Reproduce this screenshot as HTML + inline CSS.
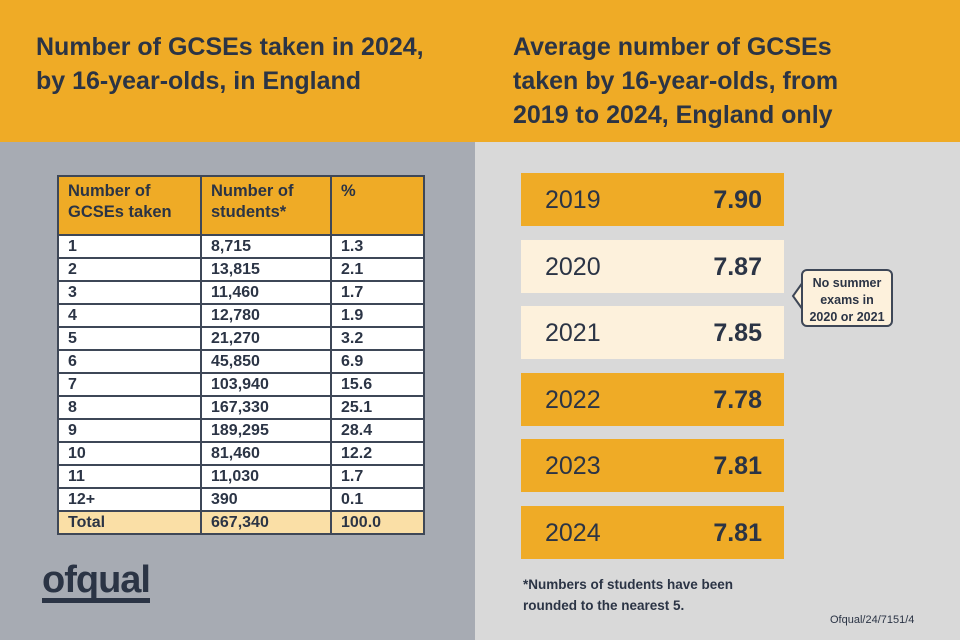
<!DOCTYPE html>
<html><head><meta charset="utf-8"><style>
body{margin:0;width:960px;height:640px;overflow:hidden;font-family:"Liberation Sans",sans-serif;color:#2b3445;position:relative}
#hdr{position:absolute;left:0;top:0;width:960px;height:142px;background:#efab26}
.title{position:absolute;font-weight:bold;font-size:25px;line-height:34px;color:#2b3445}
#lp{position:absolute;left:0;top:142px;width:475px;height:498px;background:#a7abb3}
#rp{position:absolute;left:475px;top:142px;width:485px;height:498px;background:#d9d9d9}
table{position:absolute;left:57px;top:175px;border-collapse:collapse;font-weight:bold;font-size:16px}
td{border:2px solid #3e4757;padding:0 0 0 9px;height:21px;line-height:21px;background:#fff}
tr.h td{background:#efab26;height:53px;vertical-align:top;line-height:21px;padding-top:4px;font-size:16.5px}
tr.t td{background:#fadfa6}
.bar{position:absolute;left:521px;width:263px;height:53px;font-size:25px}
.bar .y{position:absolute;left:24px;top:13px}
.bar .v{position:absolute;right:22px;top:13px;font-weight:bold}
#call{position:absolute;left:801px;top:269px;width:92px;height:58px;background:#fdf1dc;border:2px solid #3e4757;border-radius:6px;font-weight:bold;font-size:12.5px;text-align:center;line-height:17px;box-sizing:border-box;padding-top:4px}
</style></head><body>
<div id="hdr"></div>
<div class="title" style="left:36px;top:30px">Number of GCSEs taken in 2024,<br>by 16-year-olds, in England</div>
<div class="title" style="left:513px;top:30px">Average number of GCSEs<br>taken by 16-year-olds, from<br>2019 to 2024, England only</div>
<div id="lp"></div>
<div id="rp"></div>
<table id="tbl">
<tr class="h"><td style="width:132px">Number of<br>GCSEs taken</td><td style="width:119px">Number of<br>students*</td><td style="width:82px">%</td></tr>
</table>
<svg style="position:absolute;left:783px;top:280px" width="22" height="36"><path d="M20 2 L10 16 L20 30" fill="#fdf1dc" stroke="#3e4757" stroke-width="2"/></svg>
<div id="call">No summer<br>exams in<br>2020 or 2021</div>
<div style="position:absolute;left:523px;top:574px;font-weight:bold;font-size:13.5px;line-height:21px">*Numbers of students have been<br>rounded to the nearest 5.</div>
<div style="position:absolute;left:830px;top:614px;font-size:11px">Ofqual/24/7151/4</div>
<div style="position:absolute;left:42px;top:562px;font-weight:bold;font-size:38px;letter-spacing:-1px;color:#2b3445;border-bottom:5px solid #2b3445;line-height:36px">ofqual</div>
<script>
const gcses=["1","2","3","4","5","6","7","8","9","10","11","12+"];
const students=["8,715","13,815","11,460","12,780","21,270","45,850","103,940","167,330","189,295","81,460","11,030","390"];
const pct=["1.3","2.1","1.7","1.9","3.2","6.9","15.6","25.1","28.4","12.2","1.7","0.1"];
const years=["2019","2020","2021","2022","2023","2024"];
const avgs=[7.90,7.87,7.85,7.78,7.81,7.81];
const noExam=[false,true,true,false,false,false];
const tb=document.getElementById('tbl');
gcses.forEach((g,i)=>{
  const tr=document.createElement('tr');
  
  
  [g,students[i],pct[i]].forEach(t=>{const td=document.createElement('td');td.textContent=t;tr.appendChild(td);});
  tb.appendChild(tr);
});
const tt=document.createElement('tr');tt.className='t';


["Total","667,340","100.0"].forEach(t=>{const td=document.createElement('td');td.textContent=t;tt.appendChild(td);});
tb.appendChild(tt);
years.forEach((y,i)=>{
  const d=document.createElement('div');d.className='bar';
  
  
  d.style.top=(173+i*66.6)+'px';
  d.style.background=noExam[i]?'#fdf1dc':'#efab26';
  d.innerHTML='<span class="y">'+y+'</span><span class="v">'+avgs[i].toFixed(2)+'</span>';
  document.body.appendChild(d);
});
</script>
</body></html>
